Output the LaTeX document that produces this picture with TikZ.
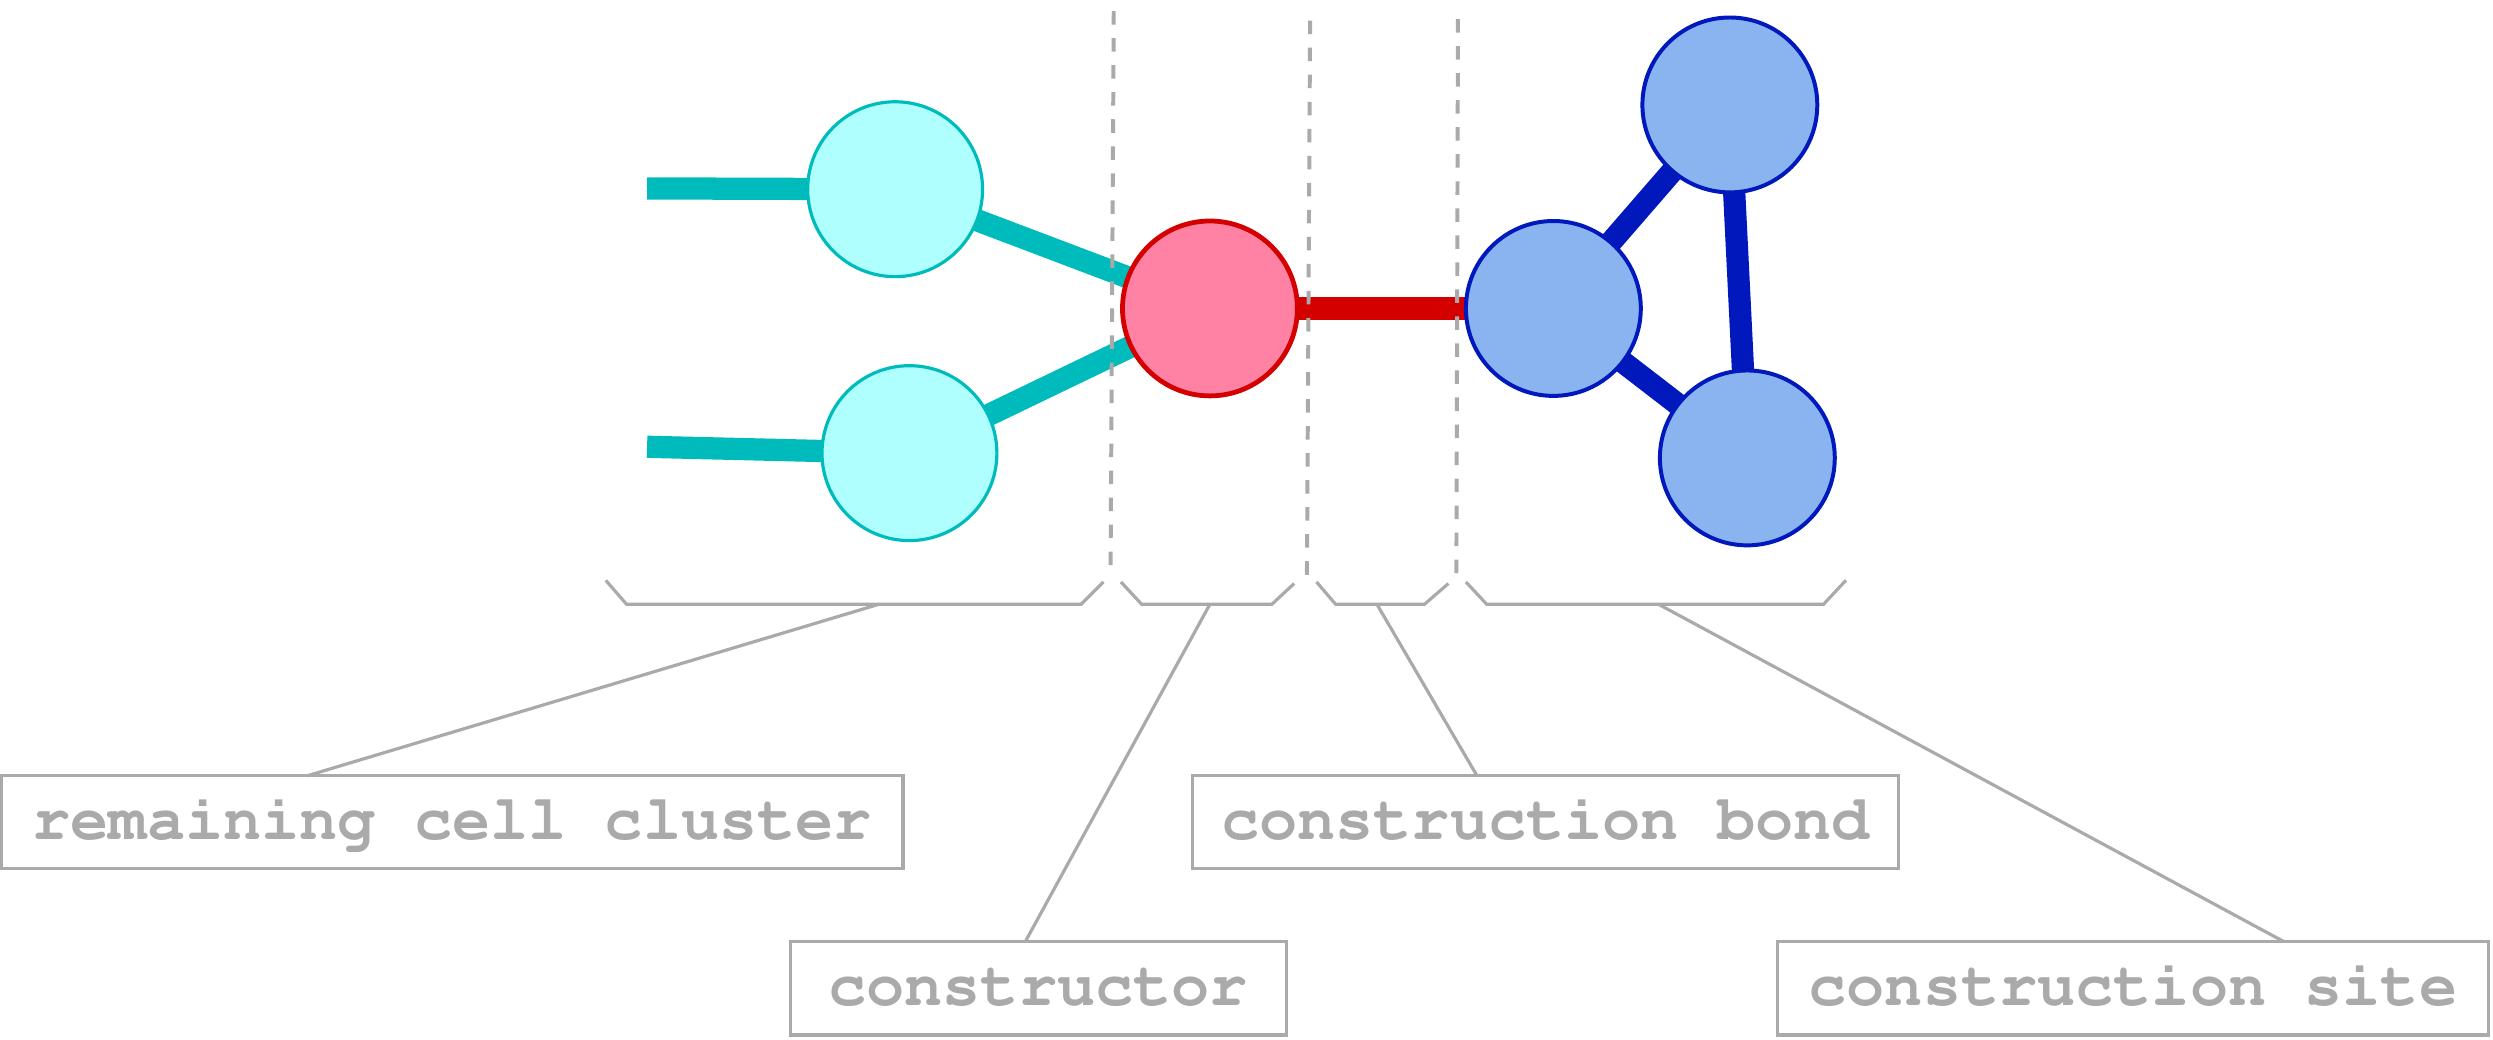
\documentclass[tikz,border=0pt]{standalone}
\usepackage[T1]{fontenc}
\usetikzlibrary{backgrounds}
\definecolor{cyanE}{HTML}{00BBBB}
\definecolor{cyanF}{HTML}{B0FFFF}
\definecolor{redE}{HTML}{D40000}
\definecolor{redF}{HTML}{FF82A4}
\definecolor{blueE}{HTML}{0018BC}
\definecolor{blueF}{HTML}{8AB4F0}
\definecolor{grayL}{HTML}{AAAAAA}
\newcommand{\tagfont}{\fontencoding{T1}\fontfamily{pcr}\fontseries{b}\fontshape{n}\fontsize{40}{48}\selectfont}
\begin{document}
\begin{tikzpicture}[x=1pt,y=-1pt,
  cell/.style={circle,minimum size=110pt,inner sep=0pt},
  cyancell/.style={cell,draw=cyanE,fill=cyanF,line width=2pt},
  redcell/.style={cell,draw=redE,fill=redF,line width=3pt},
  bluecell/.style={cell,draw=blueE,fill=blueF,line width=2.5pt},
  bond/.style={line width=14pt},
  guide/.style={draw=grayL,line width=2.5pt,dash pattern=on 8.5pt off 8.5pt},
  brace/.style={draw=grayL,line width=2pt},
  leader/.style={draw=grayL,line width=2pt},
  tagbox/.style={draw=grayL,line width=2pt,text=grayL,
    font=\tagfont,
    inner sep=0pt,outer sep=0pt,text height=28pt,text depth=6pt}
]
\useasboundingbox (0,0) rectangle (1568,653.5);

% cells
\node[cyancell] (ct) at (563,119) {};
\node[cyancell] (cb) at (572,285) {};
\node[redcell]  (rc) at (761,194) {};
\node[bluecell] (bl) at (977,194) {};
\node[bluecell] (bt) at (1088,66) {};
\node[bluecell] (bb) at (1099,288) {};

\coordinate (s1) at (407,118.5);
\coordinate (s2) at (407,281);

\begin{pgfonlayer}{background}
  \draw[bond,cyanE] (s1) -- (ct.center);
  \draw[bond,cyanE] (s2) -- (cb.center);
  \draw[bond,cyanE] (ct.center) -- (rc.center);
  \draw[bond,cyanE] (cb.center) -- (rc.center);
  \draw[bond,redE] (rc.center) -- (bl.center);
  \draw[bond,blueE] (bl.center) -- (bt.center);
  \draw[bond,blueE] (bl.center) -- (bb.center);
  \draw[bond,blueE] (bt.center) -- (bb.center);
\end{pgfonlayer}

% dashed guides
\coordinate (g1a) at (700.5,7);  \coordinate (g1b) at (698.5,358);
\coordinate (g2a) at (824,13);   \coordinate (g2b) at (822,362);
\coordinate (g3a) at (917,12);   \coordinate (g3b) at (916,362);
\draw[guide] (g1a) -- (g1b);
\draw[guide] (g2a) -- (g2b);
\draw[guide] (g3a) -- (g3b);

% braces
\coordinate (b1a) at (381,365); \coordinate (b1b) at (394,380); \coordinate (b1c) at (680,380); \coordinate (b1d) at (694,366);
\coordinate (b2a) at (705,366); \coordinate (b2b) at (718,380); \coordinate (b2c) at (800,380); \coordinate (b2d) at (814,367);
\coordinate (b3a) at (828,366); \coordinate (b3b) at (840,380); \coordinate (b3c) at (896,380); \coordinate (b3d) at (911,367);
\coordinate (b4a) at (922,366); \coordinate (b4b) at (935,380); \coordinate (b4c) at (1147,380); \coordinate (b4d) at (1161,365);
\draw[brace] (b1a) -- (b1b) -- (b1c) -- (b1d);
\draw[brace] (b2a) -- (b2b) -- (b2c) -- (b2d);
\draw[brace] (b3a) -- (b3b) -- (b3c) -- (b3d);
\draw[brace] (b4a) -- (b4b) -- (b4c) -- (b4d);

% label boxes
\node[tagbox,minimum width=567pt,minimum height=58pt] (t1) at (284.5,517) {remaining cell cluster};
\node[tagbox,minimum width=312pt,minimum height=59pt] (t2) at (653,621.5) {constructor};
\node[tagbox,minimum width=444pt,minimum height=58pt] (t3) at (972,517) {construction bond};
\node[tagbox,minimum width=447pt,minimum height=59pt] (t4) at (1341.5,621.5) {construction site};

% leaders
\coordinate (m1) at (553,380); \coordinate (e1) at (193,488);
\coordinate (m2) at (761,380); \coordinate (e2) at (645,592);
\coordinate (m3) at (866,380); \coordinate (e3) at (929,488);
\coordinate (m4) at (1043,380); \coordinate (e4) at (1436,592);
\draw[leader] (m1) -- (e1);
\draw[leader] (m2) -- (e2);
\draw[leader] (m3) -- (e3);
\draw[leader] (m4) -- (e4);
\end{tikzpicture}
\end{document}
